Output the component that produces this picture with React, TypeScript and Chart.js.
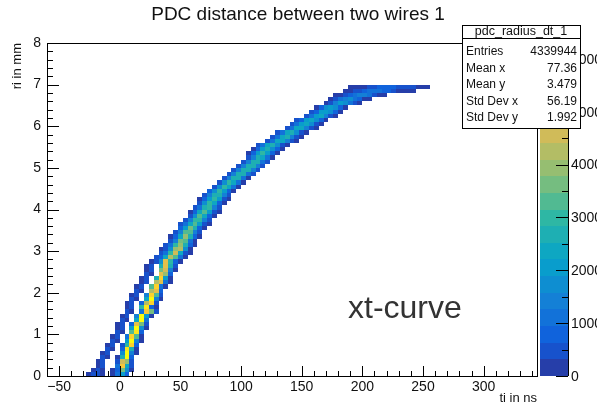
import React, { useEffect, useRef } from 'react';
import { Chart, registerables } from 'chart.js';

Chart.register(...registerables);

// ---------- texts ----------
const TITLE = 'PDC distance between two wires 1';
const X_TITLE = 'ti in ns';
const Y_TITLE = 'ri in mm';
const ANNOTATION = 'xt-curve';
const STAT_NAME = 'pdc_radius_dt_1';
const STAT_LABELS = ['Entries', 'Mean x', 'Mean y', 'Std Dev x', 'Std Dev y'];
const STAT_VALUES = ['4339944', '77.36', '3.479', '56.19', '1.992'];

// ---------- axes ----------
const X_MIN = -60;
const X_MAX = 344;
const Y_MIN = 0;
const Y_MAX = 8;
const X_BIN = 4; // ns per bin
const Y_BIN = 0.1; // mm per bin
const Z_MAX = 6300;
const Z_TICKS = [0, 1000, 2000, 3000, 4000, 5000, 6000];
const N_CONTOURS = 20;

// ---------- histogram contents ----------
// one entry per ri bin (0.0-0.1, 0.1-0.2, ...): [centre ti of first filled bin, counts...]
const MAIN_ROWS: number[][] = [
  [-6, 300, 1000, 2200, 700],
  [-6, 200, 900, 3500, 1800, 300],
  [-2, 1200, 5200, 2400, 400],
  [-2, 600, 4500, 3800, 500],
  [-2, 300, 2800, 6000, 900],
  [2, 1600, 6200, 1500, 200],
  [2, 900, 5800, 2600, 300],
  [2, 400, 3000, 5600, 700],
  [6, 2200, 6300, 1400, 200],
  [6, 1000, 5500, 3200, 300],
  [10, 3200, 5900, 800],
  [10, 2000, 6100, 1700, 200],
  [10, 900, 5000, 3600, 400],
  [14, 2500, 6000, 1000],
  [14, 1500, 6200, 2200, 300],
  [18, 1200, 5200, 3600, 400],
  [18, 3000, 5800, 900, 200],
  [18, 900, 4200, 5400, 600],
  [22, 2400, 6000, 1500, 200],
  [22, 1400, 5600, 3200, 400],
  [26, 4200, 4800, 800],
  [26, 3200, 5400, 1200, 200],
  [30, 4200, 4800, 1200, 200],
  [30, 2600, 5400, 2000, 300],
  [34, 4800, 3800, 800],
  [34, 3600, 4600, 1400, 200],
  [34, 2600, 4800, 2600, 500],
  [34, 1800, 4800, 3000, 800, 200],
  [30, 400, 800, 2400, 4400, 3400, 1000, 200],
  [34, 500, 1000, 3000, 4600, 2400, 600, 150],
  [34, 300, 600, 1800, 3800, 4200, 1600, 300],
  [38, 450, 1100, 2900, 4000, 2800, 800, 200],
  [42, 600, 1500, 3600, 3400, 1200, 300],
  [42, 300, 900, 2400, 3800, 2600, 700, 150],
  [46, 500, 1300, 3200, 3300, 1500, 400],
  [50, 700, 1900, 3500, 2600, 900, 250],
  [50, 350, 1000, 2500, 3400, 2100, 600, 150],
  [54, 450, 1300, 3000, 3100, 1400, 400],
  [58, 600, 1800, 3200, 2500, 900, 250],
  [58, 300, 900, 2300, 3200, 2000, 600, 150],
  [62, 400, 1200, 2800, 3000, 1400, 400],
  [66, 600, 1700, 3100, 2400, 900, 250],
  [66, 300, 900, 2200, 3100, 2000, 600, 150],
  [70, 450, 1300, 2800, 2800, 1300, 350],
  [74, 650, 1800, 3000, 2200, 800, 200],
  [78, 600, 1700, 2900, 2400, 1000, 300],
  [82, 550, 1600, 2900, 2500, 1000, 300],
  [86, 500, 1500, 2800, 2600, 1100, 300],
  [90, 450, 1400, 2700, 2700, 1200, 350],
  [94, 450, 1300, 2600, 2800, 1300, 400],
  [98, 400, 1300, 2600, 2700, 1300, 400],
  [102, 450, 1400, 2700, 2600, 1200, 350],
  [106, 500, 1500, 2800, 2500, 1100, 300],
  [106, 250, 800, 2000, 2900, 2000, 800, 200],
  [110, 300, 900, 2200, 2800, 1800, 700, 200],
  [114, 350, 1000, 2400, 2700, 1600, 600, 150],
  [122, 400, 1200, 2500, 2500, 1400, 500, 150],
  [126, 400, 1100, 2400, 2600, 1500, 500, 150],
  [130, 400, 1100, 2300, 2600, 1600, 600, 150],
  [138, 400, 1200, 2400, 2400, 1400, 500, 150],
  [142, 350, 1000, 2200, 2500, 1600, 600, 200],
  [146, 350, 900, 2000, 2400, 1700, 700, 200],
  [154, 400, 1000, 2100, 2300, 1500, 600, 200],
  [158, 350, 900, 1900, 2200, 1600, 700, 250],
  [162, 300, 800, 1700, 2100, 1700, 900, 300],
  [170, 250, 600, 1400, 1900, 1700, 1000, 400, 150],
  [174, 200, 500, 1000, 1500, 1600, 1200, 700, 300, 100],
  [178, 150, 300, 600, 900, 1200, 1400, 1300, 1000, 600, 300, 100],
  [186, 100, 200, 400, 600, 800, 1000, 1100, 1000, 900, 700, 500, 300, 200, 100, 60],
  [190, 60, 100, 200, 300, 400, 550, 650, 750, 700, 650, 600, 500, 450, 400, 300, 200, 120],
];

// early-arrival band at small radius, same layout
const OUTER_ROWS: number[][] = [
  [-26, 200, 350, 450, 250],
  [-22, 250, 400, 300],
  [-18, 300, 350],
  [-18, 200, 400],
  [-14, 350, 300],
  [-14, 200, 400],
  [-10, 400, 250],
  [-10, 200, 400],
  [-6, 400, 200],
  [-6, 300, 350],
  [-2, 400, 250],
  [-2, 250, 400],
  [-2, 200, 400],
  [2, 400, 250],
  [2, 250, 400],
  [6, 400, 250],
  [6, 300, 400],
  [6, 150, 450],
  [10, 400, 300],
  [10, 300, 400],
  [14, 350, 300],
  [14, 250, 400],
  [18, 250, 400],
  [18, 200, 450],
  [22, 400, 300],
  [22, 300, 450],
  [22, 200, 450],
  [26, 300, 500],
];

// ---------- style ----------
const FONT = "'Liberation Sans', Arial, Helvetica, sans-serif";
const BIRD_STOPS = [0, 0.125, 0.25, 0.375, 0.5, 0.625, 0.75, 0.875, 1];
const BIRD_R = [0.2082, 0.0592, 0.078, 0.0232, 0.1802, 0.5301, 0.8186, 0.9956, 0.9764];
const BIRD_G = [0.1664, 0.3599, 0.5041, 0.6419, 0.7178, 0.7492, 0.7328, 0.7862, 0.9832];
const BIRD_B = [0.5293, 0.8684, 0.8385, 0.7914, 0.6425, 0.4662, 0.3499, 0.1968, 0.0539];

function bird(f: number): string {
  const t = Math.max(0, Math.min(1, f));
  let i = 0;
  while (i < BIRD_STOPS.length - 2 && t > BIRD_STOPS[i + 1]) i++;
  const u = (t - BIRD_STOPS[i]) / (BIRD_STOPS[i + 1] - BIRD_STOPS[i]);
  const c = (a: number[]) => Math.round(255 * (a[i] + (a[i + 1] - a[i]) * u));
  return `rgb(${c(BIRD_R)},${c(BIRD_G)},${c(BIRD_B)})`;
}

function levelColor(k: number): string {
  return bird((k + 0.99) / N_CONTOURS);
}

function colorFor(v: number): string {
  const k = Math.max(0, Math.min(N_CONTOURS - 1, Math.floor(v / (Z_MAX / N_CONTOURS))));
  return levelColor(k);
}

const fmt = (v: number) => (v < 0 ? '\u2212' + Math.abs(v) : String(v));

const rootPlugin = {
  id: 'rootDecor',
  beforeDatasetsDraw(chart: any) {
    const { ctx, chartArea, scales } = chart;
    const xs = scales.x;
    const ys = scales.y;
    const data = chart.data.datasets[0].data as any[];
    ctx.save();
    ctx.beginPath();
    ctx.rect(chartArea.left, chartArea.top, chartArea.right - chartArea.left, chartArea.bottom - chartArea.top);
    ctx.clip();
    for (const p of data) {
      if (!(p.v > 0)) continue;
      const x0 = Math.round(xs.getPixelForValue(p.x - X_BIN / 2));
      const x1 = Math.round(xs.getPixelForValue(p.x + X_BIN / 2));
      const y0 = Math.round(ys.getPixelForValue(p.y + Y_BIN / 2));
      const y1 = Math.round(ys.getPixelForValue(p.y - Y_BIN / 2));
      ctx.fillStyle = colorFor(p.v);
      ctx.fillRect(x0, y0, x1 - x0, y1 - y0);
    }
    ctx.restore();
  },
  afterDraw(chart: any) {
    const { ctx, chartArea, scales } = chart;
    const xs = scales.x;
    const ys = scales.y;
    const L = chartArea.left, R = chartArea.right, T = chartArea.top, B = chartArea.bottom;
    ctx.save();
    // frame
    ctx.strokeStyle = '#000';
    ctx.lineWidth = 1;
    ctx.strokeRect(Math.round(L) + 0.5, Math.round(T) + 0.5, Math.round(R - L), Math.round(B - T));
    // x ticks (inside)
    ctx.beginPath();
    for (let v = X_MIN; v <= X_MAX + 1e-6; v += 10) {
      if (v % 10 !== 0) continue;
      const px = Math.round(xs.getPixelForValue(v)) + 0.5;
      const len = v % 50 === 0 ? 10 : 5;
      ctx.moveTo(px, B);
      ctx.lineTo(px, B - len);
    }
    // y ticks (inside)
    for (let i = 0; i <= (Y_MAX - Y_MIN) * 5; i++) {
      const v = Y_MIN + i * 0.2;
      const py = Math.round(ys.getPixelForValue(v)) + 0.5;
      const len = i % 5 === 0 ? 12 : 6;
      ctx.moveTo(L, py);
      ctx.lineTo(L + len, py);
    }
    ctx.stroke();

    // annotation
    ctx.fillStyle = '#333';
    ctx.font = `32px ${FONT}`;
    ctx.textAlign = 'left';
    ctx.textBaseline = 'alphabetic';
    ctx.fillText(ANNOTATION, 348, 318);

    // palette
    const pL = 540, pR = 568;
    const zpx = (z: number) => B - (z / Z_MAX) * (B - T);
    for (let k = 0; k < N_CONTOURS; k++) {
      const yTop = Math.round(zpx(((k + 1) * Z_MAX) / N_CONTOURS));
      const yBot = Math.round(zpx((k * Z_MAX) / N_CONTOURS));
      ctx.fillStyle = levelColor(k);
      ctx.fillRect(pL, yTop, pR - pL, yBot - yTop);
    }
    ctx.strokeStyle = '#000';
    ctx.beginPath();
    ctx.moveTo(pR + 0.5, T);
    ctx.lineTo(pR + 0.5, B);
    for (const z of Z_TICKS) {
      const py = Math.round(zpx(z)) + 0.5;
      ctx.moveTo(pR, py);
      ctx.lineTo(pR - 12, py);
    }
    for (let z = 500; z < Z_MAX; z += 1000) {
      const py = Math.round(zpx(z)) + 0.5;
      ctx.moveTo(pR, py);
      ctx.lineTo(pR - 6, py);
    }
    ctx.stroke();
    ctx.fillStyle = '#111';
    ctx.font = `14px ${FONT}`;
    ctx.textAlign = 'left';
    ctx.textBaseline = 'middle';
    for (const z of Z_TICKS) ctx.fillText(String(z), 571, zpx(z) + 1);

    // stats box
    const sL = 462, sR = 580, sT = 25, sB = 128, sH = 38;
    ctx.fillStyle = '#fff';
    ctx.fillRect(sL, sT, sR - sL, sB - sT);
    ctx.strokeStyle = '#000';
    ctx.strokeRect(sL + 0.5, sT + 0.5, sR - sL, sB - sT);
    ctx.beginPath();
    ctx.moveTo(sL, sH + 0.5);
    ctx.lineTo(sR, sH + 0.5);
    ctx.stroke();
    ctx.fillStyle = '#111';
    ctx.font = `12.5px ${FONT}`;
    ctx.textAlign = 'center';
    ctx.fillText(STAT_NAME, (sL + sR) / 2, 32);
    const rowY = [51.5, 68.5, 85, 101.5, 118];
    ctx.font = `12px ${FONT}`;
    STAT_LABELS.forEach((lab, i) => {
      ctx.textAlign = 'left';
      ctx.fillText(lab, 466, rowY[i]);
      ctx.textAlign = 'right';
      ctx.fillText(STAT_VALUES[i], 577, rowY[i]);
    });

    // main title
    ctx.fillStyle = '#111';
    ctx.font = `19px ${FONT}`;
    ctx.textAlign = 'center';
    ctx.fillText(TITLE, 298, 15);
    ctx.restore();
  },
};

export default function App() {
  const ref = useRef<HTMLCanvasElement>(null);
  useEffect(() => {
    const canvas = ref.current;
    if (!canvas) return;
    const cells: { x: number; y: number; v: number }[] = [];
    const addRows = (rows: number[][]) =>
      rows.forEach((row, j) => {
        const [start, ...counts] = row;
        counts.forEach((v, i) => cells.push({ x: start + i * X_BIN, y: Y_MIN + (j + 0.5) * Y_BIN, v }));
      });
    addRows(OUTER_ROWS);
    addRows(MAIN_ROWS);

    const chart = new Chart(canvas, {
      type: 'scatter',
      data: {
        datasets: [
          {
            label: STAT_NAME,
            data: cells as any,
            pointRadius: 0,
            pointHoverRadius: 0,
          },
        ],
      },
      options: {
        animation: false,
        responsive: false,
        devicePixelRatio: 1,
        events: [],
        layout: { padding: { top: 43, right: 60, bottom: 0, left: 0 } },
        plugins: {
          legend: { display: false },
          title: { display: false },
          tooltip: { enabled: false },
        },
        scales: {
          x: {
            type: 'linear',
            position: 'bottom',
            min: X_MIN,
            max: X_MAX,
            grid: { display: false, drawTicks: false },
            border: { display: false },
            ticks: {
              stepSize: 50,
              includeBounds: false,
              autoSkip: false,
              maxRotation: 0,
              padding: 3,
              color: '#111',
              font: { family: FONT, size: 14 },
              callback: (v: any) => fmt(Number(v)),
            },
            title: {
              display: true,
              text: X_TITLE,
              align: 'end',
              color: '#111',
              font: { family: FONT, size: 13 },
              padding: { top: 0, bottom: 0 },
            },
            afterFit: (s: any) => {
              s.height = 30;
            },
          },
          y: {
            type: 'linear',
            position: 'left',
            min: Y_MIN,
            max: Y_MAX,
            grid: { display: false, drawTicks: false },
            border: { display: false },
            ticks: {
              stepSize: 1,
              autoSkip: false,
              padding: 6,
              color: '#111',
              font: { family: FONT, size: 14 },
              callback: (v: any) => fmt(Number(v)),
            },
            title: {
              display: true,
              text: Y_TITLE,
              align: 'end',
              color: '#111',
              font: { family: FONT, size: 13 },
              padding: { top: 10, bottom: 0 },
            },
            afterFit: (s: any) => {
              s.width = 47;
            },
          },
        },
      },
      plugins: [rootPlugin],
    });
    return () => chart.destroy();
  }, []);

  return (
    <div style={{ position: 'fixed', left: 0, top: 0, width: 597, height: 406, background: '#fff' }}>
      <canvas ref={ref} width={597} height={406} style={{ display: 'block', width: 597, height: 406 }} />
    </div>
  );
}
